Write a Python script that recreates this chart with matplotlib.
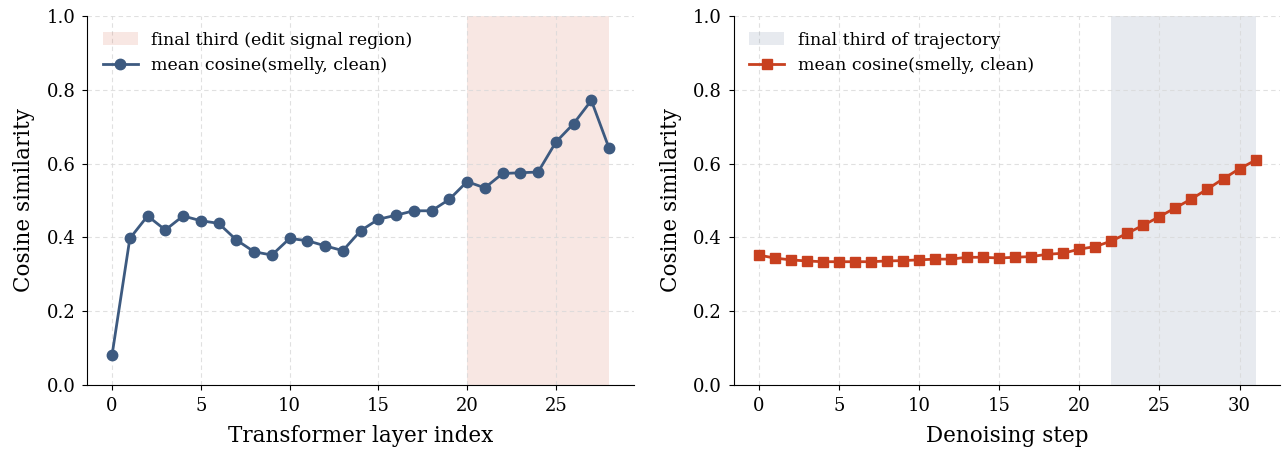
import matplotlib
matplotlib.use("Agg")
import matplotlib.pyplot as plt
import numpy as np

# cosine similarity per transformer layer
layers_idx = list(range(29))
layer_cos = [0.082, 0.397, 0.458, 0.420, 0.458, 0.445, 0.438, 0.393, 0.361, 0.352,
             0.397, 0.391, 0.377, 0.364, 0.418, 0.449, 0.460, 0.472, 0.472, 0.503,
             0.551, 0.534, 0.573, 0.575, 0.577, 0.658, 0.708, 0.771, 0.641]

# cosine similarity per denoising step
steps_idx = list(range(32))
step_cos = [0.352, 0.344, 0.339, 0.336, 0.334, 0.334, 0.334, 0.334, 0.336, 0.337,
            0.339, 0.341, 0.341, 0.346, 0.346, 0.344, 0.346, 0.348, 0.354, 0.357,
            0.368, 0.375, 0.390, 0.411, 0.433, 0.456, 0.480, 0.504, 0.531, 0.559,
            0.586, 0.609]

layer_shade = (20, 28)
step_shade = (22, 31)

blue = "#3d5a80"
red = "#c8401f"

plt.rcParams["font.family"] = "DejaVu Serif"

fig, (ax1, ax2) = plt.subplots(1, 2, figsize=(12.83, 4.54), dpi=100)
fig.subplots_adjust(left=0.068, right=0.998, top=0.965, bottom=0.152, wspace=0.1825)

ax1.axvspan(*layer_shade, color=red, alpha=0.12, lw=0, label="final third (edit signal region)")
ax1.plot(layers_idx, layer_cos, "-o", color=blue, lw=2, ms=7.5, label="mean cosine(smelly, clean)")
ax1.set_xlabel("Transformer layer index", fontsize=15.5, labelpad=7)

ax2.axvspan(*step_shade, color=blue, alpha=0.12, lw=0, label="final third of trajectory")
ax2.plot(steps_idx, step_cos, "-s", color=red, lw=2, ms=7.5, label="mean cosine(smelly, clean)")
ax2.set_xlabel("Denoising step", fontsize=15.5, labelpad=7)

for ax in (ax1, ax2):
    ax.set_ylim(0, 1.0)
    ax.set_ylabel("Cosine similarity", fontsize=15.5, labelpad=8)
    ax.tick_params(labelsize=13, pad=5)
    ax.grid(True, ls=(0, (4, 3)), color="#d9d9d9", alpha=0.8)
    ax.spines["top"].set_visible(False)
    ax.spines["right"].set_visible(False)
    ax.legend(loc="upper left", frameon=False, fontsize=12.5)

fig.savefig("out.png", dpi=100)
